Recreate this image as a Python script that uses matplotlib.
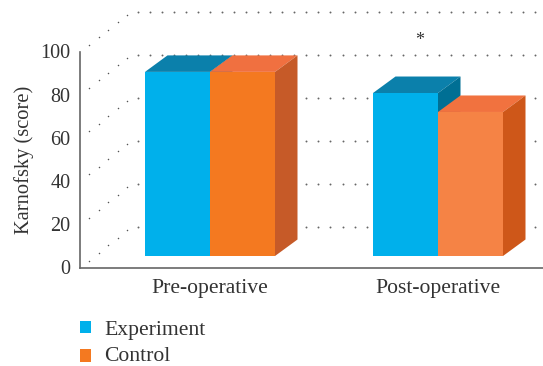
import numpy as np
import matplotlib
matplotlib.use("Agg")
import matplotlib.pyplot as plt
from matplotlib.patches import Patch, Polygon
from matplotlib.transforms import ScaledTranslation

categories = ["Pre-operative", "Post-operative"]
experiment = [91, 81.2]
control = [91, 72.4]
y_ticks = [0, 20, 40, 60, 80, 100]

W, H = 543, 366
plt.rcParams["font.family"] = ["Liberation Serif", "DejaVu Serif"]
TEXT = "#333333"
AXIS = "#666666"

fig = plt.figure(figsize=(W / 100, H / 100), dpi=100)
ax = fig.add_axes([80 / W, 1 - 268 / H, (W - 80) / W, 215.5 / H])
ax.set_xlim(-130 / 228, 333 / 228)
ax.set_ylim(0, 100)
PX = 1 / 228          # one pixel along x, in data units
PY = 100 / 215.5      # one pixel along y, in data units
x0 = ax.get_xlim()[0]

for s in ("top", "right"):
    ax.spines[s].set_visible(False)
for s in ("left", "bottom"):
    ax.spines[s].set_color(AXIS)
    ax.spines[s].set_linewidth(1.2)
ax.tick_params(length=0)
ax.set_yticks(y_ticks)
ax.set_yticklabels([str(v) for v in y_ticks], fontsize=14.5, color=TEXT)
ax.tick_params(axis="y", pad=7)
ax.tick_params(axis="x", pad=8)
ax.set_xticks([0, 1])
ax.set_xticklabels(categories, fontsize=15.6, color=TEXT)
ax.set_ylabel("Karnofsky (score)", fontsize=14.8, color=TEXT, labelpad=4.5)

# nudge the y tick labels up slightly against their ticks
shift = ScaledTranslation(0, 1 / 100, fig.dpi_scale_trans)
for lbl in ax.get_yticklabels():
    lbl.set_transform(lbl.get_transform() + shift)

# dotted walls of the chart box: side wall running back from each tick, then back wall
wall_dx, wall_dy = 51 * PX, 41 * PY
for v in y_ticks:
    t = np.array([0.18, 0.37, 0.55, 0.74, 0.92])
    ax.plot(x0 + t * wall_dx, v + t * wall_dy, ls="none", marker="o", ms=1.1,
            color="#555555", mec="none", clip_on=False, zorder=1)
    xs = np.arange(138, 540, 12.03)
    ax.plot((xs - 80) * PX + x0, np.full(xs.size, v + wall_dy),
            ls="none", marker="o", ms=1.4, color="#666666", mec="none",
            clip_on=False, zorder=1)

bar_w = 65 * PX
floor = 12 * PY
dx, dy = 22.5 * PX, 16.5 * PY
blue = {"front": ["#00B0EB", "#00B0EB"], "top": ["#0B80AB", "#0B80AB"], "side": ["#006F94", "#006F94"]}
orange = {"front": ["#F47920", "#F58345"], "top": ["#F07040", "#F1723F"], "side": ["#C65A28", "#CE5719"]}


def draw_box(x_left, value, colors, i, z):
    x_right = x_left + bar_w
    ax.bar(x_left, value - floor, bar_w, bottom=floor, align="edge",
           color=colors["front"][i], lw=0, zorder=z + 0.2)
    top = [(x_left, value), (x_right, value), (x_right + dx, value + dy), (x_left + dx, value + dy)]
    side = [(x_right, floor), (x_right + dx, floor + dy), (x_right + dx, value + dy), (x_right, value)]
    ax.add_patch(Polygon(top, closed=True, fc=colors["top"][i], lw=0, zorder=z))
    ax.add_patch(Polygon(side, closed=True, fc=colors["side"][i], lw=0, zorder=z))


for i in range(len(categories)):
    draw_box(i - bar_w, experiment[i], blue, i, 3)
    draw_box(i, control[i], orange, i, 4)

ax.text((420 - 80) * PX + x0, 105.7, "*", ha="center", va="center",
        fontsize=13, color=TEXT, clip_on=False)

handles = [Patch(fc="#00B0EB", lw=0), Patch(fc="#F47920", lw=0)]
leg = fig.legend(handles, ["Experiment", "Control"], loc="upper left",
                 bbox_to_anchor=(80 / W, 1 - 320.5 / H), borderpad=0, borderaxespad=0,
                 frameon=False, fontsize=15.6, labelcolor=TEXT, handlelength=0.51,
                 handleheight=0.51, handletextpad=0.6, labelspacing=0.33)
# the lower swatch sits a little below its label
lower = leg.legend_handles[1]
lower.set_y(lower.get_y() - 2)

fig.savefig("out.png", dpi=100)
